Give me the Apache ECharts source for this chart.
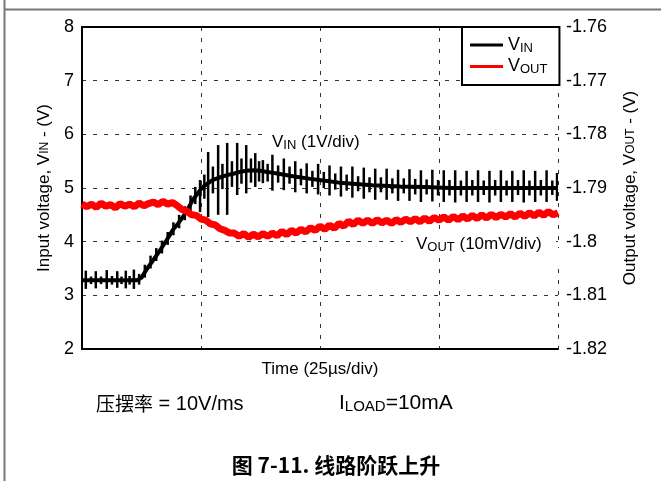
<!DOCTYPE html>
<html>
<head>
<meta charset="utf-8">
<script src="https://cdn.jsdelivr.net/npm/echarts@6/dist/echarts.min.js"></script>
<style>
html,body{margin:0;padding:0;background:#fff}
#c{width:661px;height:481px}
</style>
</head>
<body>
<div id="c"></div>
<script>
// ---- time axis (µs), 25 µs per division ----
const timeTicks = [0, 25, 50, 75, 100];

// ---- input voltage, smooth part of the trace ----
const vinTime = [0, 11.6, 12.5, 13.7, 15, 16.4, 17.8, 19.1, 20.2, 21.2, 22.3, 23.3, 24.4, 25.4, 26.5, 27.5, 29, 30.5, 32, 33.2, 34.5, 35.9, 37.4, 38.9, 41, 44.3, 48, 51.5, 54, 56.9, 61, 66.8, 72, 77.3, 85, 100];
const vinVolts = [3.28, 3.28, 3.33, 3.50, 3.66, 3.84, 4.03, 4.22, 4.34, 4.46, 4.62, 4.78, 4.91, 5.02, 5.09, 5.15, 5.20, 5.24, 5.27, 5.30, 5.32, 5.33, 5.32, 5.30, 5.27, 5.22, 5.17, 5.13, 5.10, 5.08, 5.05, 5.03, 5.02, 5.00, 5.00, 5.00];

// ---- input voltage switching spikes: [time µs, low V, high V] ----
const vinSpikes = [
  [0.8,3.12,3.46],[1.9,3.21,3.35],[2.9,3.13,3.45],[4.0,3.21,3.35],[5.2,3.12,3.47],[6.3,3.20,3.36],
  [7.4,3.14,3.45],[8.3,3.21,3.35],[9.2,3.13,3.46],[10.0,3.20,3.36],[10.9,3.12,3.48],[12.0,3.20,3.40],
  [13.2,3.33,3.57],[14.4,3.50,3.74],[15.6,3.64,3.88],[16.8,3.78,4.02],[18.0,3.94,4.18],[19.2,4.12,4.36],
  [20.4,4.25,4.50],[21.6,4.40,4.66],[22.8,4.56,4.86],[23.8,4.70,5.02],
  [24.8,4.55,5.15],[25.7,4.80,5.25],[26.5,4.46,5.67],[27.5,4.90,5.40],[28.6,4.50,5.80],[29.5,4.98,5.45],
  [30.5,4.50,5.84],[31.5,5.02,5.50],[32.6,4.87,5.84],[33.5,5.08,5.55],[34.5,4.90,5.80],[35.5,5.10,5.55],
  [36.4,5.02,5.65],[37.2,5.12,5.50],[38.0,5.09,5.52],[39.0,5.12,5.45],
  [40.0,4.95,5.62],[41.2,5.10,5.42],[42.4,4.96,5.55],[43.6,5.08,5.40],[44.8,4.92,5.50],[46.0,5.05,5.36],
  [47.2,4.90,5.46],[48.4,5.02,5.32],[49.6,4.88,5.45],[50.8,5.00,5.30],[52.0,4.86,5.42],[53.2,4.97,5.27],
  [54.4,4.84,5.40],[55.6,4.95,5.25],[56.8,4.82,5.40],[58.0,4.94,5.22],[59.2,4.80,5.38],[60.4,4.92,5.20],
  [61.6,4.78,5.36],[62.8,4.92,5.20],[64.0,4.78,5.36],[65.2,4.90,5.18],[66.4,4.76,5.34],[67.6,4.90,5.18],
  [68.8,4.76,5.35],[70.0,4.88,5.17],[71.2,4.74,5.33],[72.4,4.88,5.16],[73.6,4.75,5.34],[74.8,4.86,5.15],
  [76.0,4.74,5.33],[77.2,4.86,5.15],[78.4,4.73,5.33],[79.6,4.86,5.14],[80.8,4.74,5.32],[82.0,4.86,5.15],
  [83.2,4.74,5.33],[84.4,4.87,5.14],[85.6,4.73,5.32],[86.8,4.86,5.15],[88.0,4.74,5.33],[89.2,4.86,5.14],
  [90.4,4.74,5.32],[91.6,4.87,5.15],[92.8,4.73,5.33],[94.0,4.86,5.14],[95.2,4.74,5.32],[96.4,4.86,5.15],
  [97.6,4.74,5.33],[98.8,4.87,5.14],[99.8,4.76,5.28]
];

// ---- output voltage, one sample per µs ----
const voutStepUs = 1;
const voutVolts = [
  -1.7930,-1.7935,-1.7930,-1.7936,-1.7928,-1.7934,-1.7931,-1.7937,-1.7929,-1.7934,
  -1.7930,-1.7935,-1.7928,-1.7933,-1.7929,-1.7926,-1.7931,-1.7925,-1.7930,-1.7927,
  -1.7933,-1.7940,-1.7943,-1.7950,-1.7951,-1.7958,-1.7960,-1.7967,-1.7969,-1.7976,
  -1.7979,-1.7984,-1.7984,-1.7990,-1.7985,-1.7992,-1.7986,-1.7991,-1.7985,-1.7990,
  -1.7984,-1.7989,-1.7981,-1.7987,-1.7979,-1.7984,-1.7977,-1.7982,-1.7974,-1.7979,
  -1.7971,-1.7977,-1.7969,-1.7975,-1.7966,-1.7971,-1.7962,-1.7968,-1.7960,-1.7966,
  -1.7960,-1.7966,-1.7959,-1.7965,-1.7960,-1.7966,-1.7959,-1.7964,-1.7958,-1.7963,
  -1.7957,-1.7963,-1.7956,-1.7962,-1.7955,-1.7960,-1.7954,-1.7960,-1.7953,-1.7959,
  -1.7952,-1.7958,-1.7951,-1.7957,-1.7950,-1.7956,-1.7949,-1.7955,-1.7949,-1.7954,
  -1.7948,-1.7954,-1.7947,-1.7953,-1.7946,-1.7952,-1.7945,-1.7951,-1.7944,-1.7950,-1.7946
];

// ---- axis ranges ----
const vinAxis = { min: 2, max: 8, step: 1 };
const voutAxis = { min: -1.82, max: -1.76, step: 0.01 };

const LATIN = "'Liberation Sans', Arial, sans-serif";
const CJK = "'Noto Sans CJK SC', 'Liberation Sans', sans-serif";
const subStyle = { fontSize: 13, fontFamily: LATIN, color: '#000', verticalAlign: 'bottom', padding: [6, 0, 0, 0] };
const nameSub = { fontSize: 12, fontFamily: LATIN, color: '#000' };

const chart = echarts.init(document.getElementById('c'), null, { renderer: 'canvas' });

const vinLine = vinTime.map((t, i) => [t, vinVolts[i]]);
const voutLine = voutVolts.map((v, i) => [i * voutStepUs, v]);

const axisLineStyle = { show: true, lineStyle: { color: '#000', width: 2 } };
const gridDash = { show: true, lineStyle: { color: '#333', width: 1, type: [4, 7] } };

chart.setOption({
  animation: false,
  backgroundColor: '#fff',
  textStyle: { fontFamily: LATIN },
  grid: { left: 82, right: 103, top: 27, bottom: 132, containLabel: false },
  legend: {
    orient: 'vertical',
    left: 462, top: 27,
    padding: [9, 12, 9, 8],
    itemGap: 3,
    itemWidth: 33, itemHeight: 3,
    icon: 'rect',
    backgroundColor: '#fff',
    borderColor: '#000', borderWidth: 2, borderRadius: 0,
    data: ['VIN', 'VOUT'],
    formatter: n => n === 'VIN' ? 'V{s|IN}' : 'V{s|OUT}',
    textStyle: { fontSize: 18, color: '#000', fontFamily: LATIN, rich: { s: subStyle } }
  },
  xAxis: [{
    type: 'value', min: timeTicks[0], max: timeTicks[timeTicks.length - 1], interval: timeTicks[1] - timeTicks[0],
    position: 'bottom',
    name: 'Time (25\u00b5s/div)', nameLocation: 'middle', nameGap: 12,
    nameTextStyle: { fontSize: 17, color: '#000', fontFamily: LATIN },
    axisLine: axisLineStyle, axisTick: { show: false }, axisLabel: { show: false },
    splitLine: gridDash
  }, {
    type: 'value', min: timeTicks[0], max: timeTicks[timeTicks.length - 1],
    position: 'top',
    axisLine: axisLineStyle, axisTick: { show: false }, axisLabel: { show: false }, splitLine: { show: false }
  }],
  yAxis: [{
    type: 'value', min: vinAxis.min, max: vinAxis.max, interval: vinAxis.step, position: 'left',
    name: 'Input voltage, V{s|IN} - (V)', nameLocation: 'middle', nameRotate: 90, nameGap: 25,
    nameTextStyle: { fontSize: 17, color: '#000', fontFamily: LATIN, rich: { s: nameSub } },
    axisLine: axisLineStyle, axisTick: { show: false },
    axisLabel: { fontSize: 18, color: '#000', margin: 8 },
    splitLine: gridDash
  }, {
    type: 'value', min: voutAxis.min, max: voutAxis.max, interval: voutAxis.step, position: 'right',
    name: 'Output voltage, V{s|OUT} - (V)', nameLocation: 'middle', nameRotate: 90, nameGap: 64,
    nameTextStyle: { fontSize: 17, color: '#000', fontFamily: LATIN, rich: { s: nameSub } },
    axisLine: axisLineStyle, axisTick: { show: false },
    axisLabel: { fontSize: 18, color: '#000', margin: 8, formatter: v => String(parseFloat(v.toFixed(2))) },
    splitLine: { show: false }
  }],
  series: [{
    name: 'VIN', type: 'line', xAxisIndex: 0, yAxisIndex: 0,
    data: vinLine, symbol: 'none', z: 2,
    lineStyle: { color: '#000', width: 4 }, itemStyle: { color: '#000' }
  }, {
    name: 'VIN', type: 'custom', xAxisIndex: 0, yAxisIndex: 0, z: 2, clip: true,
    data: vinSpikes,
    encode: { x: 0, y: [1, 2] },
    renderItem: (params, api) => {
      const lo = api.coord([api.value(0), api.value(1)]);
      const hi = api.coord([api.value(0), api.value(2)]);
      return { type: 'line', shape: { x1: lo[0], y1: lo[1], x2: hi[0], y2: hi[1] }, style: { stroke: '#000', lineWidth: 2.5 } };
    }
  }, {
    name: 'VOUT', type: 'line', xAxisIndex: 0, yAxisIndex: 1,
    data: voutLine, symbol: 'none', z: 3,
    lineStyle: { color: '#f00', width: 7 }, itemStyle: { color: '#f00' }
  }],
  graphic: [
    // page frame
    { type: 'line', z: 100, shape: { x1: 4.5, y1: 0, x2: 4.5, y2: 481 }, style: { stroke: '#777', lineWidth: 2 } },
    { type: 'line', z: 100, shape: { x1: 4, y1: 9.5, x2: 661, y2: 9.5 }, style: { stroke: '#777', lineWidth: 2 } },
    // trace annotations (white backing hides the grid behind them)
    { type: 'rect', z: 99, shape: { x: 268, y: 131, width: 97, height: 21 }, style: { fill: '#fff' } },
    { type: 'text', z: 100, x: 272, y: 142, style: {
      text: 'V{s|IN} (1V/div)', fill: '#000', fontSize: 17, fontFamily: LATIN, verticalAlign: 'middle',
      rich: { s: subStyle } } },
    { type: 'rect', z: 99, shape: { x: 403, y: 233, width: 153, height: 23 }, style: { fill: '#fff' } },
    { type: 'rect', z: 99, shape: { x: 555, y: 248, width: 6, height: 14 }, style: { fill: '#fff' } },
    { type: 'text', z: 100, x: 416, y: 244, style: {
      text: 'V{s|OUT} (10mV/div)', fill: '#000', fontSize: 17, fontFamily: LATIN, verticalAlign: 'middle',
      rich: { s: subStyle } } },
    // test conditions
    { type: 'text', z: 100, x: 96, y: 404, style: {
      text: '{c|压摆率} = 10V/ms', fill: '#000', fontSize: 20, fontFamily: LATIN, verticalAlign: 'middle',
      rich: { c: { fontSize: 19, fontFamily: CJK, color: '#000' } } } },
    { type: 'text', z: 100, x: 339, y: 403, style: {
      text: 'I{s|LOAD}=10mA', fill: '#000', fontSize: 21, fontFamily: LATIN, verticalAlign: 'middle',
      rich: { s: { fontSize: 15, fontFamily: LATIN, color: '#000', verticalAlign: 'bottom', padding: [7, 0, 0, 0] } } } },
    // figure caption
    { type: 'text', z: 100, x: 336, y: 465, style: {
      text: '图 7-11. 线路阶跃上升', fill: '#000', fontSize: 21, fontWeight: 'bold', fontFamily: CJK,
      align: 'center', verticalAlign: 'middle' } }
  ]
});
</script>
</body>
</html>
